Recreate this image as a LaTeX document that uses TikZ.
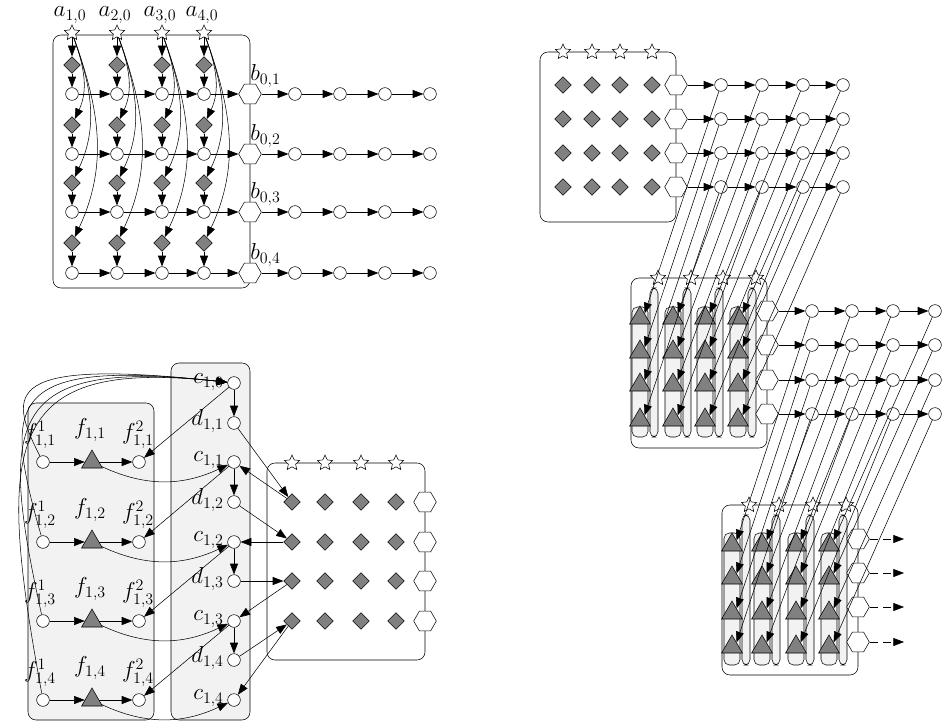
\documentclass[tikz,border=0pt]{standalone}
\usetikzlibrary{shapes.geometric,arrows.meta,calc}

\tikzset{
  st/.style={star,star points=5,star point ratio=2.1,draw,fill=white,inner sep=0pt,minimum size=12pt},
  dm/.style={diamond,draw,fill=gray,inner sep=0pt,minimum size=12.5pt},
  ci/.style={circle,draw,fill=white,inner sep=0pt,minimum size=9.5pt},
  hx/.style={regular polygon,regular polygon sides=6,draw,fill=white,inner sep=0pt,minimum size=17pt},
  tr/.style={regular polygon,regular polygon sides=3,draw,fill=gray,inner sep=0pt,minimum size=18pt},
  ar/.style={-{Triangle[length=8pt,width=6pt]}},
  bx/.style={draw,rounded corners=6pt},
  gbx/.style={draw,rounded corners=6pt,fill=gray!10},
  lb/.style={font=\LARGE,inner sep=0pt},
}

\begin{document}
\begin{tikzpicture}[x=0.75pt,y=0.75pt]
	\useasboundingbox (0,0) rectangle (947,-728);
	% top left
	\draw[bx] (53,-35) rectangle (250,-288);
	\foreach \i/\x in {1/72,2/117,3/162,4/204}{
		\node[st] (a\i) at (\x,-33) {};
		\node[lb] at (\x-2,-15) {$a_{\i,0}$};
		\foreach \j/\yd/\yc in {1/65/94,2/125/154,3/183/212,4/243/273}{
			\node[dm] (p\i-\j) at (\x,-\yd) {};
			\node[ci] (q\i-\j) at (\x,-\yc) {};
			\draw[ar] (p\i-\j) -- (q\i-\j);
		}
		\draw[ar] (a\i) -- (p\i-1);
		\foreach \j in {2,3,4}
			\draw[ar] (a\i) to[out=-70,in=65] (p\i-\j);
	}
	\foreach \j/\yc in {1/94,2/154,3/212,4/273}{
		\node[hx] (b\j) at (250,-\yc) {};
		\node[lb,anchor=west] at (250,-\yc+18) {$b_{0,\j}$};
		\foreach \k/\x in {1/295,2/340,3/385,4/430}
			\node[ci] (r\k-\j) at (\x,-\yc) {};
		\draw[ar] (q1-\j) -- (q2-\j);
		\draw[ar] (q2-\j) -- (q3-\j);
		\draw[ar] (q3-\j) -- (q4-\j);
		\draw[ar] (q4-\j) -- (b\j);
		\draw[ar] (b\j) -- (r1-\j);
		\draw[ar] (r1-\j) -- (r2-\j);
		\draw[ar] (r2-\j) -- (r3-\j);
		\draw[ar] (r3-\j) -- (r4-\j);
	}

	% bottom left
	\draw[gbx] (28,-403) rectangle (154,-720);
	\draw[gbx] (171,-363) rectangle (250,-720);
	\node[ci] (c0) at (234,-383) {};
	\node[lb,anchor=east] at (224,-382) {$c_{1,0}$};
	\foreach \k/\y/\yd in {1/462/423,2/542/502,3/621/581,4/700/660}{
		\node[ci] (g\k) at (43,-\y) {};
		\node[lb] at (40,-\y+27) {$f^1_{1,\k}$};
		\node[tr] (t\k) at (92,-\y) {};
		\node[lb] at (90,-\y+32) {$f_{1,\k}$};
		\node[ci] (h\k) at (139,-\y) {};
		\node[lb] at (138,-\y+27) {$f^2_{1,\k}$};
		\node[ci] (c\k) at (234,-\y) {};
		\node[lb,anchor=east] at (224,-\y+2) {$c_{1,\k}$};
		\node[ci] (d\k) at (234,-\yd) {};
		\node[lb,anchor=east] at (224,-\yd+2) {$d_{1,\k}$};
		\draw[ar] (g\k) -- (t\k);
		\draw[ar] (t\k) -- (h\k);
		\draw[ar] (t\k) to[out=-25,in=205] (c\k);
	}
	\foreach \k/\dy in {1/70,2/140,3/200,4/260}
		\draw[ar] (g\k) .. controls +(-32-4*\k,\dy) and +(-230,25) .. (c0);
	\foreach \k/\n in {0/1,1/2,2/3,3/4}{
		\draw[ar] (c\k) -- (d\n);
		\draw[ar] (c\k) -- (h\n);
	}
	\draw[bx] (267,-463) rectangle (425,-660);
	\foreach \i/\x in {1/292,2/325,3/361,4/396}{
		\node[st] (s\i) at (\x,-463) {};
		\foreach \j/\y in {1/502,2/542,3/581,4/621}
			\node[dm] (e\i-\j) at (\x,-\y) {};
	}
	\foreach \j/\y in {1/502,2/542,3/581,4/621}{
		\node[hx] at (425,-\y) {};
		\draw[ar] (d\j) -- (e1-\j);
		\draw[ar] (e1-\j) -- (c\j);
	}

	% top right
	\draw[bx] (540,-52) rectangle (676,-222);
	\foreach \i/\x in {1/563,2/592,3/620,4/652}{
		\node[st] at (\x,-52) {};
		\foreach \j/\y in {1/85,2/119,3/153,4/187}
			\node[dm] at (\x,-\y) {};
	}
	\foreach \j/\y in {1/85,2/119,3/153,4/187}{
		\node[hx] (m\j) at (676,-\y) {};
		\foreach \i/\x in {1/721,2/762,3/803,4/843}
			\node[ci] (u\i-\j) at (\x,-\y) {};
		\draw[ar] (m\j) -- (u1-\j);
		\draw[ar] (u1-\j) -- (u2-\j);
		\draw[ar] (u2-\j) -- (u3-\j);
		\draw[ar] (u3-\j) -- (u4-\j);
	}

	% middle right
	\draw[bx] (631,-278) rectangle (767,-448);
	\foreach \i/\x in {1/640,2/673,3/705,4/738}{
		\draw[gbx,rounded corners=4pt] (\x-8,-307) rectangle (\x+8,-437);
		\draw[gbx,rounded corners=4pt] (\x+10,-288) rectangle (\x+18,-437);
		\node[st] (v\i) at (\x+18,-278) {};
		\foreach \j/\y in {1/318,2/352,3/385,4/420}
			\node[tr] (w\i-\j) at (\x,-\y) {};
	}
	\foreach \j/\y in {1/311,2/345,3/380,4/414}{
		\node[hx] (n\j) at (767,-\y) {};
		\foreach \i/\x in {1/812,2/852,3/893,4/935}
			\node[ci] (z\i-\j) at (\x,-\y) {};
		\draw[ar] (n\j) -- (z1-\j);
		\draw[ar] (z1-\j) -- (z2-\j);
		\draw[ar] (z2-\j) -- (z3-\j);
		\draw[ar] (z3-\j) -- (z4-\j);
	}
	\foreach \i in {1,2,3,4}
		\foreach \j in {1,2,3,4}
			\draw[ar] (u\i-\j) -- (w\i-\j.north east);

	% bottom right
	\draw[bx] (722,-505) rectangle (858,-675);
	\foreach \i/\x in {1/732,2/762,3/796,4/829}{
		\draw[gbx,rounded corners=4pt] (\x-8,-533) rectangle (\x+8,-665);
		\draw[gbx,rounded corners=4pt] (\x+10,-515) rectangle (\x+18,-665);
		\node[st] (y\i) at (\x+17,-505) {};
		\foreach \j/\y in {1/545,2/578,3/613,4/647}
			\node[tr] (o\i-\j) at (\x,-\y) {};
	}
	\foreach \j/\y in {1/539,2/573,3/607,4/642}{
		\node[hx] (l\j) at (858,-\y) {};
		\coordinate (end\j) at (904,-\y);
		\draw[ar,dash pattern=on 6pt off 4pt] (l\j) -- (end\j);
	}
	\foreach \i in {1,2,3,4}
		\foreach \j in {1,2,3,4}
			\draw[ar] (z\i-\j) -- (o\i-\j.north east);
\end{tikzpicture}
\end{document}
